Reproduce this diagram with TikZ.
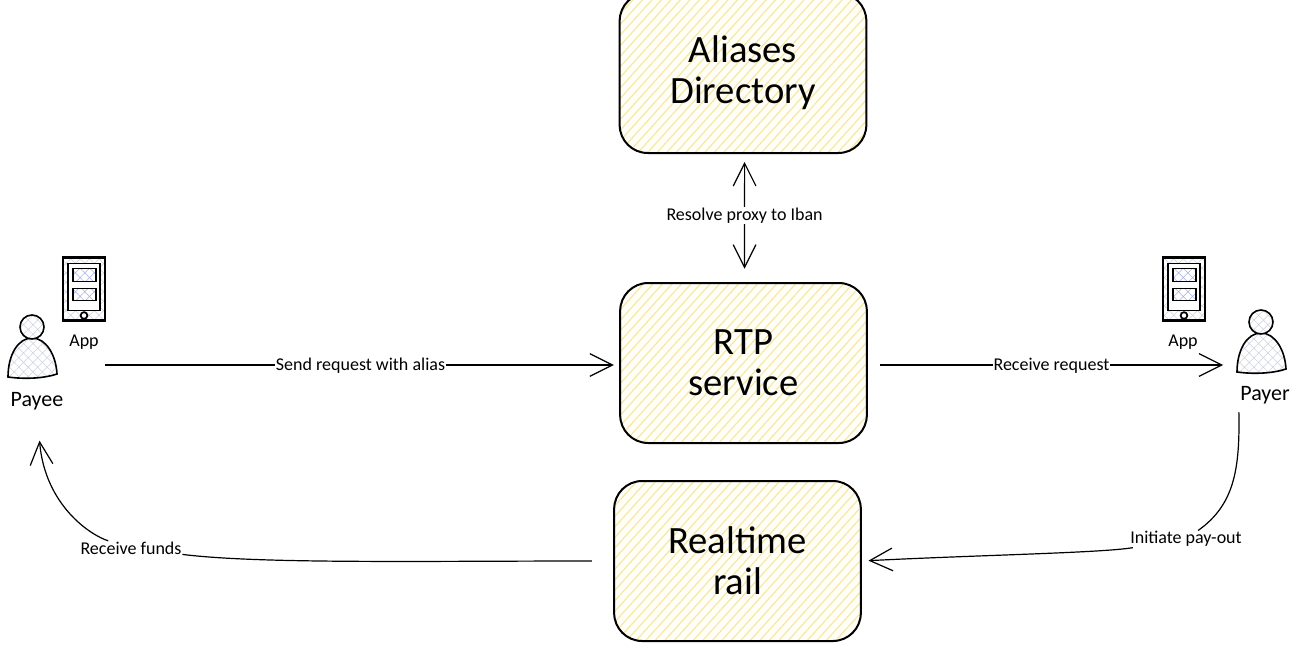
\documentclass[tikz,border=0pt]{standalone}
\usepackage{fontspec}
\setmainfont{Carlito}
\usepackage{xcolor}
\usetikzlibrary{arrows.meta,patterns.meta}
\definecolor{hatchy}{RGB}{247, 230, 165}
\definecolor{hatchg}{RGB}{205, 210, 222}
\definecolor{hatchb}{RGB}{165, 178, 232}
\tikzset{
    service/.style={rectangle, draw, line width=1.5pt, rounded corners=21pt, minimum width=185pt, minimum height=120pt,
        align=center, font=\fontsize{29}{31}\selectfont,
        preaction={fill=yellow!3},
        preaction={pattern={Lines[angle=48, distance=5.3pt, line width=0.9pt]}, pattern color=hatchy}},
    line/.style={draw, line width=0.9pt},
    head/.style={line, -{Straight Barb[length=17pt, width=17pt]}},
    tag/.style={font=\fontsize{13.5}{15}\selectfont, fill=white, inner sep=0.5pt, yshift=-0.8pt},
    who/.style={font=\fontsize{16.5}{18}\selectfont, inner sep=1pt},
    apptag/.style={font=\fontsize{13.5}{15}\selectfont, inner sep=1pt},
    crossed/.style={preaction={fill=white}, preaction={pattern={Hatch[angle=45, distance=5pt, line width=0.4pt]}, pattern color=#1}},
    person/.pic={
        \path [draw, line width=1.2pt, crossed=hatchg]
            (-24,50) .. controls (-24,28) and (-14,11) .. (0,11) .. controls (14,11) and (24,28) .. (25,47) .. controls (10,52) and (-10,52) .. cycle;
        \path [draw, line width=1.2pt, crossed=hatchg] (0,0) circle [radius=9pt];
    },
    phone/.pic={
        \path [draw, line width=1.7pt, crossed=hatchg] (-21,-31) rectangle (21,32);
        \path [draw, line width=1.4pt, fill=white] (-16,-25) rectangle (16,22);
        \path [draw, line width=1.4pt, crossed=hatchb] (-11,-20) rectangle (12,-7);
        \path [draw, line width=1.4pt, crossed=hatchb] (-11,0) rectangle (12,12);
        \path [draw, line width=1.3pt, fill=white] (0,27) circle [radius=2.5pt];
    }
}

\begin{document}
\begin{tikzpicture}[x=0.75pt, y=-0.75pt]
    \clip [use as bounding box] (0,0) rectangle (1300,650);

    \node [service] (directory) at (743,73) {Aliases\\Directory};
    \node [service] (rtp) at (743.5,363) {RTP\\service};
    \node [service] (rail) at (737.5,561) {Realtime\\rail};

    \pic at (84,288.5) {phone};
    \pic at (1184,288.5) {phone};
    \pic at (32,327) {person};
    \pic at (1261,322) {person};

    \node [apptag] (payeeapp) at (84,342) {App};
    \node [apptag] (payerapp) at (1183,342) {App};
    \node [who] (payee) at (37,401) {Payee};
    \node [who] (payer) at (1265,395) {Payer};

    \coordinate (payeeout) at (105,365);
    \coordinate (payerin) at (1223,365);
    \node [tag] (funds) at (131,547) {Receive funds};
    \node [tag] (payout) at (1186,538) {Initiate pay-out};

    \path [line, {Straight Barb[length=17pt, width=17pt]}-{Straight Barb[length=17pt, width=17pt]}, shorten <=6pt, shorten >=10pt]
        ([xshift=1.2pt]directory.south) -- node [tag, pos=0.47] (proxy) {Resolve proxy to Iban} ([xshift=0.8pt]rtp.north);
    \path [head, shorten >=4pt] (payeeout) -- node [tag, pos=0.497] (send) {Send request with alias} (payeeout -| rtp.west);
    \path [head, shorten <=9pt] (payerin -| rtp.east) -- node [tag, pos=0.517] (receive) {Receive request} (payerin);

    \path [line, shorten <=5pt] (payer.south west) .. controls (1240,470) and (1234,505) .. (payout);
    \path [head, shorten >=5pt] (payout) .. controls (1100,553) and (980,555) .. (rail.east);
    \path [line, shorten <=16pt] (rail.west) .. controls (420,561) and (260,564) .. (funds);
    \path [head, shorten >=22pt] (funds) .. controls (90,535) and (45,505) .. (payee.south);
\end{tikzpicture}
\end{document}
